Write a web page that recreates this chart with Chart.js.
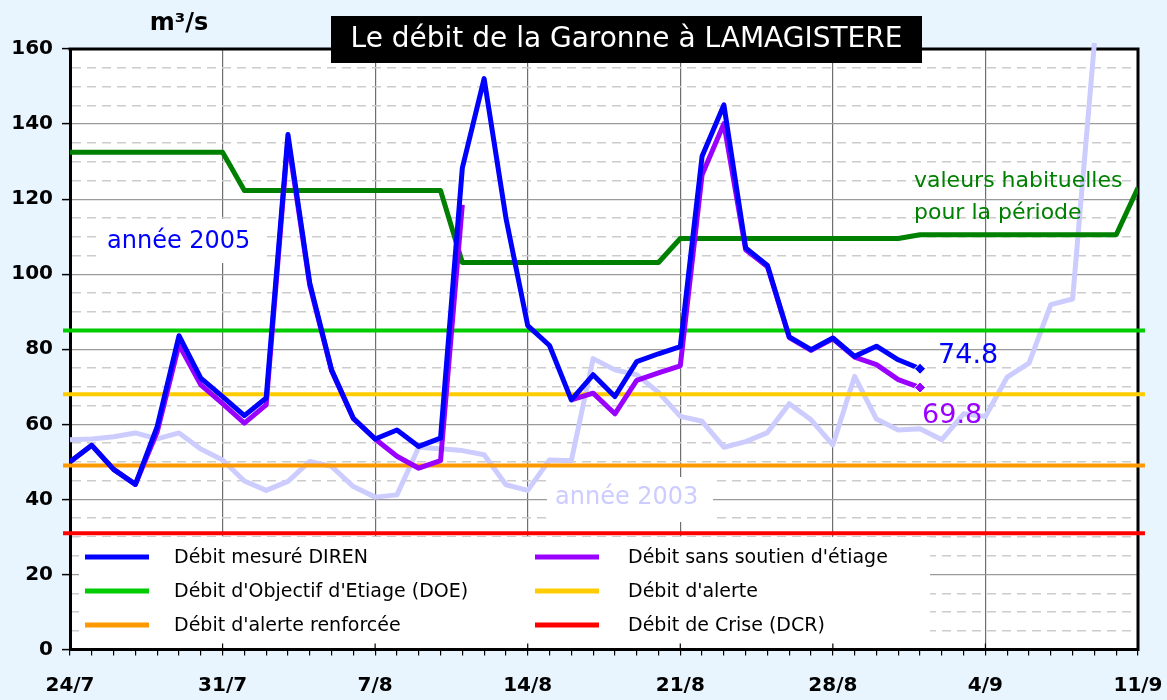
<!DOCTYPE html>
<html><head><meta charset="utf-8">
<script src="https://cdn.jsdelivr.net/npm/chart.js@4/dist/chart.umd.min.js"></script>
<style>html,body{margin:0;padding:0;background:#E9F5FE;}canvas{display:block;}</style>
</head><body>
<canvas id="c" width="1167" height="700"></canvas>
<script>
// ---- data ----
const tickLabels = ['24/7','31/7','7/8','14/8','21/8','28/8','4/9','11/9'];
const debitMesure = [50, 54.4, 48, 44, 59.4, 83.6, 72.3, 67.4, 62.3, 67, 137.2, 97.6, 74.5, 61.6, 56.1, 58.5, 54.1, 56.3, 128.3, 152.1, 115, 86.3, 81, 66.5, 73.2, 67.4, 76.7, 78.8, 80.7, 131.4, 145.1, 107, 102.3, 83.3, 79.9, 83, 78.1, 80.8, 77.2, 74.8];
const debitSansSoutien = [50, 54.4, 48, 44, 58, 81.2, 70.5, 65.5, 60.3, 65.2, 136, 97, 74.3, 61.5, 56.1, 51.5, 48.3, 50.3, 118.5, null, null, null, null, 66.5, 68.3, 62.8, 71.7, 73.7, 75.6, 126.5, 140.1, 106.5, 102, 83.1, 79.7, 82.8, 77.9, 75.9, 71.9, 69.8];
const annee2003 = [55.9, 56.1, 56.7, 57.7, 56.1, 57.7, 53.4, 50.5, 44.9, 42.4, 44.8, 50.1, 48.8, 43.4, 40.6, 41.2, 53.9, 53.5, 53.0, 51.9, 43.9, 42.4, 50.5, 50.3, 77.5, 74.5, 73.2, 68.5, 62.1, 60.8, 53.9, 55.4, 57.8, 65.5, 61.2, 54.5, 72.8, 61.4, 58.5, 58.8, 55.9, 62.8, 62.1, 72.6, 76.3, 91.9, 93.4, 161.6];
const valeursHabituelles = [132.5, 132.5, 132.5, 132.5, 132.5, 132.5, 132.5, 132.5, 122.3, 122.3, 122.3, 122.3, 122.3, 122.3, 122.3, 122.3, 122.3, 122.3, 103.1, 103.1, 103.1, 103.1, 103.1, 103.1, 103.1, 103.1, 103.1, 103.1, 109.5, 109.5, 109.5, 109.5, 109.5, 109.5, 109.5, 109.5, 109.5, 109.5, 109.5, 110.5, 110.5, 110.5, 110.5, 110.5, 110.5, 110.5, 110.5, 110.5, 110.5, 123];
const seuilDOE = 85;
const seuilAlerte = 68;
const seuilAlerteRenforcee = 49;
const seuilCrise = 31;

const legendColumns = [
  ['Débit mesuré DIREN', "Débit d'Objectif d'Etiage (DOE)", "Débit d'alerte renforcée"],
  ["Débit sans soutien d'étiage", "Débit d'alerte", 'Débit de Crise (DCR)']
];

// ---- helpers / styles ----
const FONT = '"DejaVu Sans", sans-serif';
const lastDay = (tickLabels.length - 1) * 7;
const OVERHANG = 0.32; // thresholds run slightly past the frame (style)
const pts = arr => arr.map((v, i) => ({x: i, y: v}));
const flat = v => [{x: -OVERHANG, y: v}, {x: lastDay + OVERHANG, y: v}];
const lastMarker = arr => (c => c.dataIndex === arr.length - 1 ? 5.5 : 0);

const datasets = [
  {label: 'Débit mesuré DIREN', data: pts(debitMesure), borderColor: '#0000FF', backgroundColor: '#0000FF', borderWidth: 5,
   pointStyle: 'rectRot', pointRadius: lastMarker(debitMesure), pointBackgroundColor: '#0000FF', pointBorderColor: '#fff', pointBorderWidth: 1, valueLabel: {dx: 18, dy: -13}},
  {label: "Débit sans soutien d'étiage", data: pts(debitSansSoutien), borderColor: '#9900FF', backgroundColor: '#9900FF', borderWidth: 5, spanGaps: false,
   pointStyle: 'rectRot', pointRadius: lastMarker(debitSansSoutien), pointBackgroundColor: '#9900FF', pointBorderColor: '#fff', pointBorderWidth: 1, valueLabel: {dx: 2, dy: 28}},
  {label: 'valeurs habituelles pour la période', data: pts(valeursHabituelles), borderColor: '#008000', borderWidth: 5, pointRadius: 0},
  {label: "Débit d'Objectif d'Etiage (DOE)", data: flat(seuilDOE), borderColor: '#00CC00', borderWidth: 4, pointRadius: 0, clip: 10},
  {label: "Débit d'alerte", data: flat(seuilAlerte), borderColor: '#FFCC00', borderWidth: 4, pointRadius: 0, clip: 10},
  {label: "Débit d'alerte renforcée", data: flat(seuilAlerteRenforcee), borderColor: '#FF9900', borderWidth: 4, pointRadius: 0, clip: 10},
  {label: 'Débit de Crise (DCR)', data: flat(seuilCrise), borderColor: '#FF0000', borderWidth: 4, pointRadius: 0, clip: 10},
  {label: 'année 2003', data: pts(annee2003), borderColor: '#CCCCFF', borderWidth: 5, pointRadius: 0, clip: 8}
];

const decor = {
  id: 'decor',
  beforeDraw(chart) {
    const {ctx, chartArea: a} = chart;
    ctx.save();
    ctx.fillStyle = '#fff';
    ctx.fillRect(a.left, a.top, a.right - a.left, a.bottom - a.top);
    ctx.restore();
  },
  beforeDatasetsDraw(chart) {
    const {ctx, chartArea: a, scales} = chart;
    ctx.save();
    ctx.fillStyle = '#fff';
    ctx.fillRect(96, 219, 166, 44);    // année 2005 label box
    ctx.fillRect(547, 477, 166, 45);   // année 2003 label box
    ctx.fillRect(79, 537, 851, a.bottom - 537 - 1.6); // legend box
    // major ticks crossing the axis
    ctx.strokeStyle = '#000'; ctx.lineWidth = 1.2;
    for (let d = 7; d < lastDay; d += 7) {
      const x = scales.x.getPixelForValue(d);
      ctx.beginPath(); ctx.moveTo(x, a.bottom - 6); ctx.lineTo(x, a.bottom); ctx.stroke();
    }
    // frame top / right
    ctx.strokeStyle = '#000'; ctx.lineWidth = 3;
    ctx.beginPath(); ctx.moveTo(a.left - 1.5, a.top); ctx.lineTo(a.right, a.top); ctx.lineTo(a.right, a.bottom + 1.5); ctx.stroke();
    // legend
    const sampleX = [85, 535], textX = [174, 628], rowsY = [557, 591, 625];
    ctx.font = '19px ' + FONT; ctx.textBaseline = 'middle'; ctx.textAlign = 'left';
    legendColumns.forEach((col, ci) => col.forEach((lab, ri) => {
      const ds = chart.data.datasets.find(d => d.label === lab);
      ctx.strokeStyle = ds.borderColor; ctx.lineWidth = 5;
      ctx.beginPath(); ctx.moveTo(sampleX[ci], rowsY[ri]); ctx.lineTo(sampleX[ci] + 64, rowsY[ri]); ctx.stroke();
      ctx.fillStyle = '#000';
      ctx.fillText(lab, textX[ci], rowsY[ri] + 1);
    }));
    ctx.restore();
  },
  afterDatasetsDraw(chart) {
    const {ctx} = chart;
    ctx.save();
    ctx.textBaseline = 'middle'; ctx.textAlign = 'left';
    ctx.font = '24px ' + FONT;
    ctx.fillStyle = '#0000FF'; ctx.fillText('année 2005', 107, 242);
    ctx.fillStyle = '#CCCCFF'; ctx.fillText('année 2003', 555, 498);
    ctx.font = '22px ' + FONT; ctx.fillStyle = '#008000';
    ctx.fillText('valeurs habituelles', 914, 181);
    ctx.fillText('pour la période', 914, 213);
    // last values
    ctx.font = '27px ' + FONT;
    chart.data.datasets.forEach((ds, i) => {
      if (!ds.valueLabel) return;
      const meta = chart.getDatasetMeta(i);
      const idx = ds.data.length - 1;
      const el = meta.data[idx];
      ctx.fillStyle = ds.borderColor;
      ctx.fillText(ds.data[idx].y.toFixed(1), el.x + ds.valueLabel.dx, el.y + ds.valueLabel.dy);
    });
    ctx.restore();
  },
  afterDraw(chart) {
    const {ctx} = chart;
    ctx.save();
    ctx.fillStyle = '#000';
    ctx.fillRect(331, 16, 591, 47);
    ctx.fillStyle = '#fff'; ctx.font = '28px ' + FONT; ctx.textAlign = 'center'; ctx.textBaseline = 'middle';
    ctx.fillText('Le débit de la Garonne à LAMAGISTERE', 626.5, 40);
    ctx.fillStyle = '#000'; ctx.font = 'bold 24px ' + FONT;
    ctx.fillText('m³/s', 179, 24);
    ctx.restore();
  }
};

new Chart(document.getElementById('c'), {
  type: 'line',
  data: {datasets},
  options: {
    responsive: false, animation: false, events: [],
    devicePixelRatio: 1,
    layout: {padding: {top: 49, right: 29, left: 0, bottom: 0}},
    elements: {line: {tension: 0, borderJoinStyle: 'round', borderCapStyle: 'butt'}},
    plugins: {legend: {display: false}, tooltip: {enabled: false}, title: {display: false}},
    scales: {
      x: {
        type: 'linear', min: 0, max: lastDay,
        ticks: {stepSize: 1, autoSkip: false, maxRotation: 0, color: '#000', font: {family: FONT, size: 20, weight: 'bold'}, padding: 18,
          callback: v => (v % 7 === 0 ? tickLabels[v / 7] : '')},
        grid: {color: c => (c.tick && c.tick.value % 7 === 0 ? '#6e6e6e' : 'rgba(0,0,0,0)'), lineWidth: 1.2,
          tickColor: '#000', tickLength: 6, tickWidth: 1.2},
        border: {color: '#000', width: 3},
        afterFit(s) { s.height = 50.5; s.paddingLeft = 0; s.paddingRight = 0; }
      },
      y: {
        min: 0, max: 160,
        ticks: {stepSize: 5, autoSkip: false, color: '#000', font: {family: FONT, size: 20, weight: 'bold'}, padding: 9,
          callback: v => (v % 20 === 0 ? String(v) : '')},
        grid: {color: c => (c.tick && c.tick.value % 20 === 0 ? '#9a9a9a' : '#cccccc'),
          lineWidth: c => (c.tick && c.tick.value % 20 === 0 ? 1.2 : 1.4),
          tickColor: c => (c.tick && c.tick.value % 20 === 0 ? '#000' : 'rgba(0,0,0,0)'), tickLength: 8, tickWidth: 1.5},
        border: {color: '#000', width: 3, dash: c => (c.tick && c.tick.value % 20 !== 0 ? [9, 6] : [])},
        afterFit(s) { s.width = 70; s.paddingTop = 0; s.paddingBottom = 0; }
      }
    }
  },
  plugins: [decor]
});
</script>
</body></html>
